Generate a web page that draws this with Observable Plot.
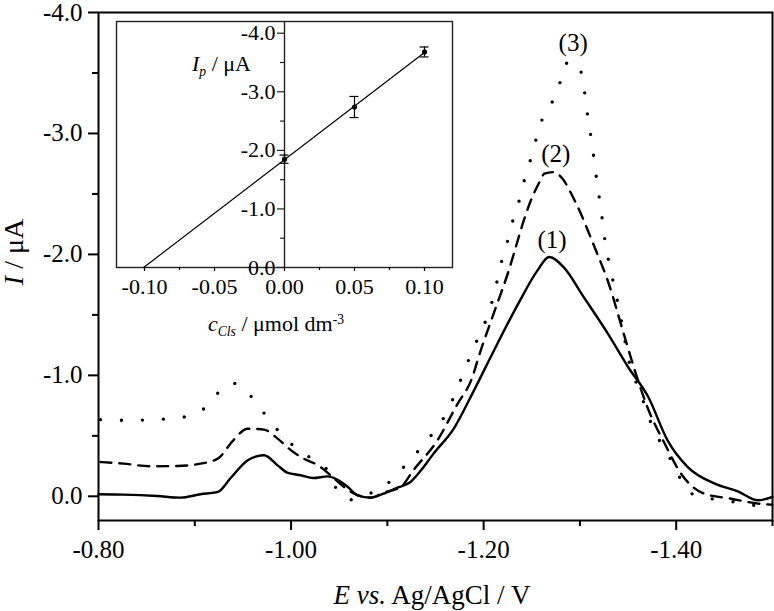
<!DOCTYPE html>
<html><head><meta charset="utf-8">
<script src="https://cdn.jsdelivr.net/npm/d3@7"></script>
<script src="https://cdn.jsdelivr.net/npm/@observablehq/plot@0.6"></script>
<style>
html,body{margin:0;padding:0;background:#fff;}
#wrap{position:relative;width:774px;height:611px;font-family:'Liberation Serif','Times New Roman',serif;color:#000;overflow:hidden;}
#wrap svg{position:absolute;left:0;top:0;overflow:visible;max-width:none;}
#wrap svg text{font-family:'Liberation Serif','Times New Roman',serif;}
.lbl{position:absolute;white-space:nowrap;font-family:'Liberation Serif','Times New Roman',serif;line-height:1;color:#000;}
.lbl sub{font-size:0.62em;vertical-align:-0.38em;line-height:0;}
.lbl sup{font-size:0.62em;vertical-align:0.55em;line-height:0;}
</style></head><body><div id="wrap"></div>
<script>
// ---- main chart: potential E (V) and current I (µA) ----
const E1 = [-0.800,-0.826,-0.861,-0.885,-0.906,-0.924,-0.937,-0.955,-0.964,-0.972,-0.986,-0.996,-1.010,-1.023,-1.038,-1.048,-1.059,-1.069,-1.083,-1.096,-1.110,-1.124,-1.135,-1.148,-1.169,-1.190,-1.211,-1.236,-1.256,-1.268,-1.283,-1.304,-1.329,-1.350,-1.371,-1.391,-1.412,-1.440,-1.464,-1.485,-1.500];
const I1 = [-0.017,-0.014,-0.002,0.011,-0.017,-0.036,-0.149,-0.298,-0.330,-0.340,-0.256,-0.196,-0.174,-0.151,-0.165,-0.138,-0.077,-0.008,0.011,-0.022,-0.070,-0.118,-0.215,-0.353,-0.560,-0.876,-1.210,-1.593,-1.868,-1.978,-1.895,-1.647,-1.345,-1.069,-0.821,-0.463,-0.242,-0.105,-0.041,0.033,0.005];

const E2 = [-0.802,-0.826,-0.854,-0.882,-0.906,-0.924,-0.940,-0.955,-0.972,-0.986,-1.000,-1.013,-1.028,-1.041,-1.055,-1.069,-1.083,-1.096,-1.114,-1.127,-1.152,-1.173,-1.187,-1.197,-1.209,-1.225,-1.244,-1.249,-1.258,-1.263,-1.272,-1.282,-1.291,-1.301,-1.311,-1.318,-1.329,-1.346,-1.357,-1.370,-1.388,-1.405,-1.429,-1.457,-1.485,-1.500];
const I2 = [-0.284,-0.270,-0.248,-0.251,-0.270,-0.312,-0.463,-0.559,-0.551,-0.477,-0.380,-0.312,-0.256,-0.174,-0.077,-0.010,0.011,-0.030,-0.077,-0.215,-0.463,-0.766,-0.959,-1.207,-1.480,-1.840,-2.336,-2.446,-2.598,-2.667,-2.680,-2.625,-2.502,-2.336,-2.143,-2.006,-1.780,-1.330,-1.041,-0.738,-0.436,-0.187,-0.022,0.020,0.060,0.070];

const E3 = [-0.802,-0.830,-0.857,-0.885,-0.901,-0.914,-0.925,-0.939,-0.953,-0.965,-0.976,-0.987,-1.000,-1.013,-1.028,-1.038,-1.048,-1.062,-1.076,-1.090,-1.104,-1.117,-1.140,-1.159,-1.169,-1.180,-1.190,-1.201,-1.211,-1.218,-1.223,-1.228,-1.232,-1.237,-1.244,-1.249,-1.256,-1.261,-1.268,-1.277,-1.285,-1.291,-1.298,-1.303,-1.308,-1.313,-1.317,-1.322,-1.327,-1.332,-1.343,-1.350,-1.363,-1.377,-1.391,-1.400,-1.408,-1.422,-1.450,-1.481,-1.500];
const I3 = [-0.634,-0.628,-0.634,-0.650,-0.689,-0.752,-0.862,-0.937,-0.868,-0.766,-0.642,-0.540,-0.435,-0.358,-0.275,-0.215,-0.050,0.028,-0.010,-0.050,-0.132,-0.242,-0.450,-0.656,-0.821,-1.041,-1.234,-1.427,-1.675,-1.923,-2.060,-2.198,-2.336,-2.446,-2.667,-2.791,-2.997,-3.121,-3.217,-3.355,-3.576,-3.590,-3.576,-3.438,-3.149,-2.887,-2.639,-2.364,-2.060,-1.868,-1.455,-1.151,-0.849,-0.545,-0.353,-0.215,-0.091,0.000,0.033,0.074,0.088];

const curveLabels = ["(1)", "(2)", "(3)"];
const labelE = [-1.271, -1.275, -1.293];
const labelI = [-2.116, -2.826, -3.745];

const xMajor = [-0.80, -1.00, -1.20, -1.40];
const xMinor = [-0.90, -1.10, -1.30, -1.50];
const yMajor = [0.0, -1.0, -2.0, -3.0, -4.0];
const yMinor = [-0.5, -1.5, -2.5, -3.5];

// ---- inset: concentration c (µmol dm-3) vs peak current Ip (µA) ----
const cVals = [0.00, 0.05, 0.10];
const IpVals = [-1.85, -2.74, -3.68];
const IpErr = [0.07, 0.18, 0.085];
const cMajor = [-0.10, -0.05, 0.00, 0.05, 0.10];
const cMinor = [-0.075, -0.025, 0.025, 0.075];
const ipMajor = [0.0, -1.0, -2.0, -3.0, -4.0];
const ipMinor = [-0.5, -1.5, -2.5, -3.5];

const fmt1 = d => d.toFixed(1);
const fmt2 = d => d.toFixed(2);
const toRows = (E, I) => E.map((e, i) => ({E: e, I: I[i]}));
const c1 = toRows(E1, I1), c2 = toRows(E2, I2), c3 = toRows(E3, I3);
const labels = curveLabels.map((t, i) => ({t, E: labelE[i], I: labelI[i]}));

const font = "'Liberation Serif', 'Times New Roman', serif";

const main = Plot.plot({
  width: 774, height: 611,
  marginLeft: 98, marginRight: 2, marginTop: 12, marginBottom: 91,
  style: {fontFamily: font, fontSize: "25px", color: "black", background: "transparent", overflow: "visible"},
  x: {domain: [-0.80, -1.50], label: null},
  y: {domain: [0.2, -4.0], label: null},
  marks: [
    Plot.axisX(xMajor, {tickSize: 10, tickPadding: 10, tickFormat: fmt2, strokeWidth: 2, fontSize: 25, fontFamily: font, label: null}),
    Plot.axisX(xMinor, {tickSize: 6, tickFormat: () => "", strokeWidth: 2, label: null}),
    Plot.axisY(yMajor, {tickSize: 10, tickPadding: 6, tickFormat: fmt1, strokeWidth: 2, fontSize: 25, fontFamily: font, label: null}),
    Plot.axisY(yMinor, {tickSize: 6, tickFormat: () => "", strokeWidth: 2, label: null}),
    Plot.line(c1, {x: "E", y: "I", stroke: "black", strokeWidth: 2.4, curve: "monotone-x"}),
    Plot.line(c2, {x: "E", y: "I", stroke: "black", strokeWidth: 2.4, strokeDasharray: "11 8", curve: "monotone-x"}),
    Plot.line(c3, {x: "E", y: "I", stroke: "black", strokeWidth: 3.4, strokeDasharray: "0 21", strokeLinecap: "round", curve: "monotone-x"}),
    Plot.text(labels, {x: "E", y: "I", text: "t", fontSize: 25, fontFamily: font, fill: "black"}),
    Plot.frame({stroke: "black", strokeWidth: 2})
  ]
});

// regression line through the inset points
const n = cVals.length;
const mx = d3.mean(cVals), my = d3.mean(IpVals);
const slope = d3.sum(cVals.map((x, i) => (x - mx) * (IpVals[i] - my))) / d3.sum(cVals.map(x => (x - mx) ** 2));
const icpt = my - slope * mx;
const fitRows = [{c: -icpt / slope, Ip: 0}, {c: cVals[n - 1], Ip: icpt + slope * cVals[n - 1]}];
const pts = cVals.map((c, i) => ({c, Ip: IpVals[i], lo: IpVals[i] - IpErr[i], hi: IpVals[i] + IpErr[i]}));

const inset = Plot.plot({
  width: 480, height: 345,
  marginLeft: 116, marginRight: 28, marginTop: 21, marginBottom: 78,
  style: {fontFamily: font, fontSize: "22px", color: "black", background: "transparent", overflow: "visible"},
  x: {domain: [-0.12, 0.12], label: null},
  y: {domain: [0, -4.2], label: null, axis: null},
  marks: [
    Plot.frame({fill: "white", stroke: "#222", strokeWidth: 1.4}),
    Plot.axisX(cMajor, {tickSize: 4, tickPadding: 7, tickFormat: fmt2, strokeWidth: 1.2, fontSize: 22, fontFamily: font, label: null}),
    Plot.axisX(cMinor, {tickSize: 3, tickFormat: () => "", strokeWidth: 1.2, label: null}),
    Plot.ruleX([0], {stroke: "#222", strokeWidth: 1.4}),
    Plot.ruleY(ipMajor, {y: d => d, x1: () => 0, x2: () => 0, insetLeft: -7, stroke: "#222", strokeWidth: 1.2}),
    Plot.ruleY(ipMinor, {y: d => d, x1: () => 0, x2: () => 0, insetLeft: -4, stroke: "#222", strokeWidth: 1.2}),
    Plot.text(ipMajor, {x: () => 0, y: d => d, text: fmt1, textAnchor: "end", dx: -9, fontSize: 22, fontFamily: font, fill: "black"}),
    Plot.line(fitRows, {x: "c", y: "Ip", stroke: "black", strokeWidth: 1.2}),
    Plot.ruleX(pts, {x: "c", y1: "lo", y2: "hi", stroke: "black", strokeWidth: 1.2}),
    Plot.ruleY(pts, {y: "lo", x1: "c", x2: "c", insetLeft: -4.5, insetRight: -4.5, stroke: "black", strokeWidth: 1.2}),
    Plot.ruleY(pts, {y: "hi", x1: "c", x2: "c", insetLeft: -4.5, insetRight: -4.5, stroke: "black", strokeWidth: 1.2}),
    Plot.dot(pts, {x: "c", y: "Ip", r: 2.6, fill: "black", stroke: "none"})
  ]
});

const wrap = document.getElementById("wrap");
wrap.appendChild(main);
wrap.appendChild(inset);

// rotated y-axis title as SVG text
const tsvg = d3.create("svg").attr("width", 60).attr("height", 611).style("background", "transparent");
const tt = tsvg.append("text")
  .attr("transform", "translate(23,252) rotate(-90)")
  .attr("text-anchor", "middle")
  .attr("font-size", 28)
  .attr("fill", "black");
tt.append("tspan").attr("font-style", "italic").text("I");
tt.append("tspan").text(" / μA");
wrap.appendChild(tsvg.node());

function addLabel(html, css) {
  const d = document.createElement("div");
  d.className = "lbl";
  d.innerHTML = html;
  Object.assign(d.style, css);
  wrap.appendChild(d);
}
addLabel("<i>E vs.</i> Ag/AgCl / V", {fontSize: "27px", left: "432px", top: "582px", transform: "translateX(-50%)"});
addLabel("<i>I</i><sub><i>p</i></sub> / μA", {fontSize: "22px", left: "192px", top: "53px"});
addLabel("<i>c</i><sub><i>Cls</i></sub> / μmol dm<sup>-3</sup>", {fontSize: "22px", left: "276px", top: "313px", transform: "translateX(-50%)"});
</script>
</body></html>
